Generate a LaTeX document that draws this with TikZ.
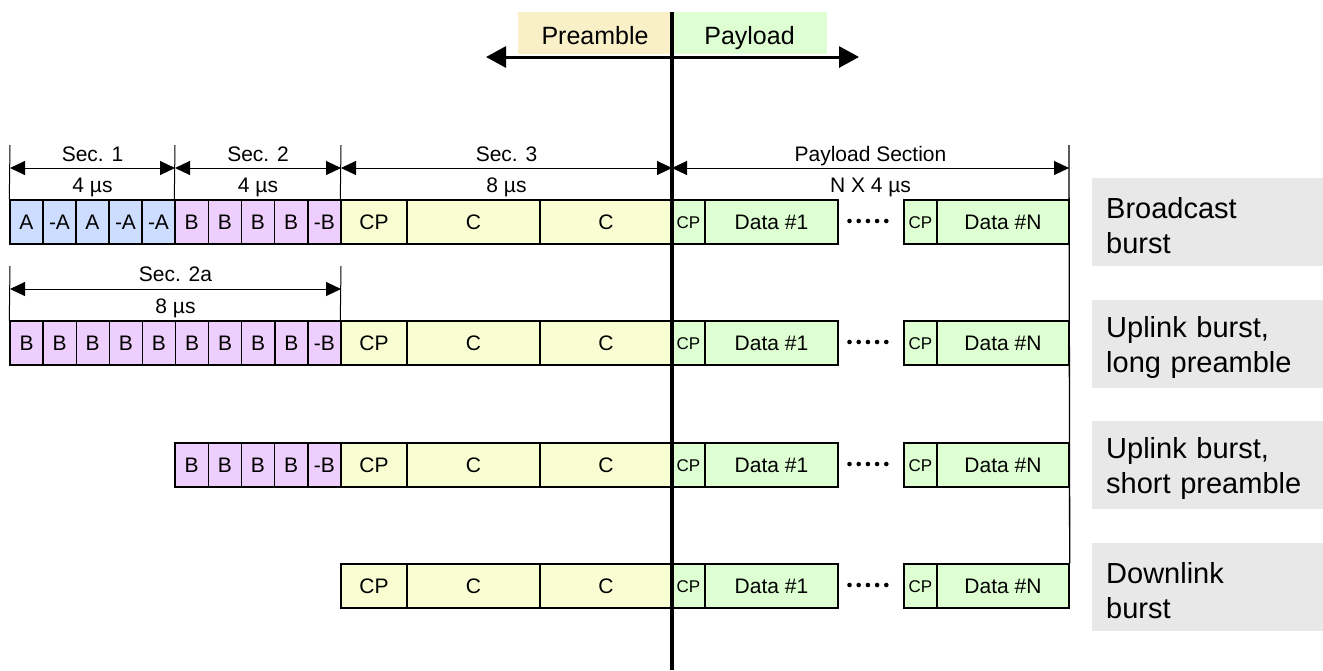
\documentclass[tikz,border=0pt]{standalone}
\usepackage{fontspec}
\setmainfont{Liberation Sans}
\usetikzlibrary{arrows.meta}
\definecolor{cA}{RGB}{204,221,255}
\definecolor{cB}{RGB}{238,206,253}
\definecolor{cC}{RGB}{248,253,210}
\definecolor{cD}{RGB}{221,255,210}
\definecolor{cPre}{RGB}{250,240,200}
\definecolor{cGray}{RGB}{232,232,232}
\newcommand\burstTail[2]{%
  \node[cell,fill=cC,minimum width=66pt] (#1cp) at (374,#2) {CP};
  \node[cell,fill=cC,minimum width=133pt] (#1ca) at (473.5,#2) {C};
  \node[cell,fill=cC,minimum width=132pt] (#1cb) at (606,#2) {C};
  \node[cell,fill=cD,minimum width=33pt,font=\fontsize{17}{20}\selectfont,text height=12pt] (#1pa) at (688.5,#2) {CP};
  \node[cell,fill=cD,minimum width=133pt] (#1da) at (771.5,#2) {Data \#1};
  \foreach \k in {0,...,4} \fill (849.5+9.2*\k,#2-1) circle (2.3pt);
  \node[cell,fill=cD,minimum width=33pt,font=\fontsize{17}{20}\selectfont,text height=12pt] (#1pb) at (920.5,#2) {CP};
  \node[cell,fill=cD,minimum width=132pt] (#1dn) at (1003,#2) {Data \#N};
}
\newcommand\upstrut{\rule{0pt}{29pt}}
\begin{document}
\begin{tikzpicture}[x=1pt,y=-1pt,
  cell/.style={draw=black, line width=1.4pt, minimum height=44pt, inner sep=0pt,
    text height=15pt, text depth=0pt, font=\fontsize{21}{25}\selectfont},
  lab/.style={inner sep=0pt, anchor=base, font=\fontsize{21}{25}\selectfont},
  tickline/.style={line width=1pt},
  dimarrow/.style={line width=1pt, {Triangle[length=15pt,width=14pt]}-{Triangle[length=15pt,width=14pt]}},
  burstlab/.style={fill=cGray, anchor=west, minimum width=231pt, minimum height=88pt,
    inner xsep=14pt, inner ysep=0pt, text width=203pt, align=left,
    font=\fontsize{29}{35}\selectfont},
  hdr/.style={inner sep=0pt, anchor=base, font=\fontsize{25}{30}\selectfont}]
\useasboundingbox (0,0) rectangle (1323,670);

% header
\fill[cPre] (518,12) rectangle (672,54);
\fill[cD] (672,12) rectangle (827,54);
\node[hdr] (pre) at (595,44) {Preamble};
\node[hdr] (pay) at (749.5,44) {Payload};
\coordinate (hl) at (486,57);
\coordinate (hr) at (859,57);
\draw[line width=3pt, {Triangle[length=20pt,width=21pt]}-{Triangle[length=20pt,width=21pt]}] (hl) -- (hr);

% row 1: broadcast
\foreach \lab [count=\i] in {A,-A,A,-A,-A}
  \node[cell,fill=cA,minimum width=33pt] (r1a\i) at ({10+33*(\i-0.5)},222) {\lab};
\foreach \lab [count=\i] in {B,B,B,B,-B}
  \node[cell,fill=cB,minimum width=33.2pt] (r1b\i) at ({175+33.2*(\i-0.5)},222) {\lab};
\burstTail{r1}{222}

% row 2: uplink long
\foreach \lab [count=\i] in {B,B,B,B,B,B,B,B,B,-B}
  \node[cell,fill=cB,minimum width=33.1pt] (r2b\i) at ({10+33.1*(\i-0.5)},343) {\lab};
\burstTail{r2}{343}

% row 3: uplink short
\foreach \lab [count=\i] in {B,B,B,B,-B}
  \node[cell,fill=cB,minimum width=33.2pt] (r3b\i) at ({175+33.2*(\i-0.5)},465) {\lab};
\burstTail{r3}{465}

% row 4: downlink
\burstTail{r4}{586}

% dimension lines, row 1
\coordinate (d0) at (10,168);
\coordinate (d1) at (175,168);
\coordinate (d2) at (341,168);
\coordinate (d3) at (672,168);
\coordinate (d4) at (1069,168);
\draw[tickline] (10,145) -- (r1a1.north west);
\draw[tickline] (175,145) -- (r1b1.north west);
\draw[tickline] (341,145) -- (r1cp.north west);
\draw[line width=1.3pt] (1069,145) -- (r4dn.north east);
\draw[dimarrow] (d0) -- (d1);
\draw[dimarrow] (d1) -- (d2);
\draw[dimarrow] (d2) -- (d3);
\draw[dimarrow] (d3) -- (d4);
\node[lab] (s1) at (92.5,161) {Sec. 1};
\node[lab] (s1t) at (92.5,192) {4 µs};
\node[lab] (s2) at (258,161) {Sec. 2};
\node[lab] (s2t) at (258,192) {4 µs};
\node[lab] (s3) at (506.5,161) {Sec. 3};
\node[lab] (s3t) at (506.5,192) {8 µs};
\node[lab] (sp) at (870.5,161) {Payload Section};
\node[lab] (spt) at (870.5,192) {N X 4 µs};

% dimension line, row 2
\coordinate (e0) at (10,289);
\coordinate (e1) at (341,289);
\draw[tickline] (10,266) -- (r2b1.north west);
\draw[tickline] (341,266) -- (r2cp.north west);
\draw[dimarrow] (e0) -- (e1);
\node[lab] (s2a) at (175.5,281) {Sec. 2a};
\node[lab] (s2at) at (175.5,313) {8 µs};

% center line
\coordinate (ct) at (672,12);
\coordinate (cb) at (672,670);
\draw[line width=3.5pt] (ct) -- (cb);

% burst labels
\node[burstlab] (l1) at (1092,222) {\upstrut Broadcast\\burst};
\node[burstlab] (l2) at (1092,343.5) {\upstrut Uplink burst,\\long preamble};
\node[burstlab] (l3) at (1092,465) {\upstrut Uplink burst,\\short preamble};
\node[burstlab] (l4) at (1092,586.5) {\upstrut Downlink\\burst};
\end{tikzpicture}
\end{document}
